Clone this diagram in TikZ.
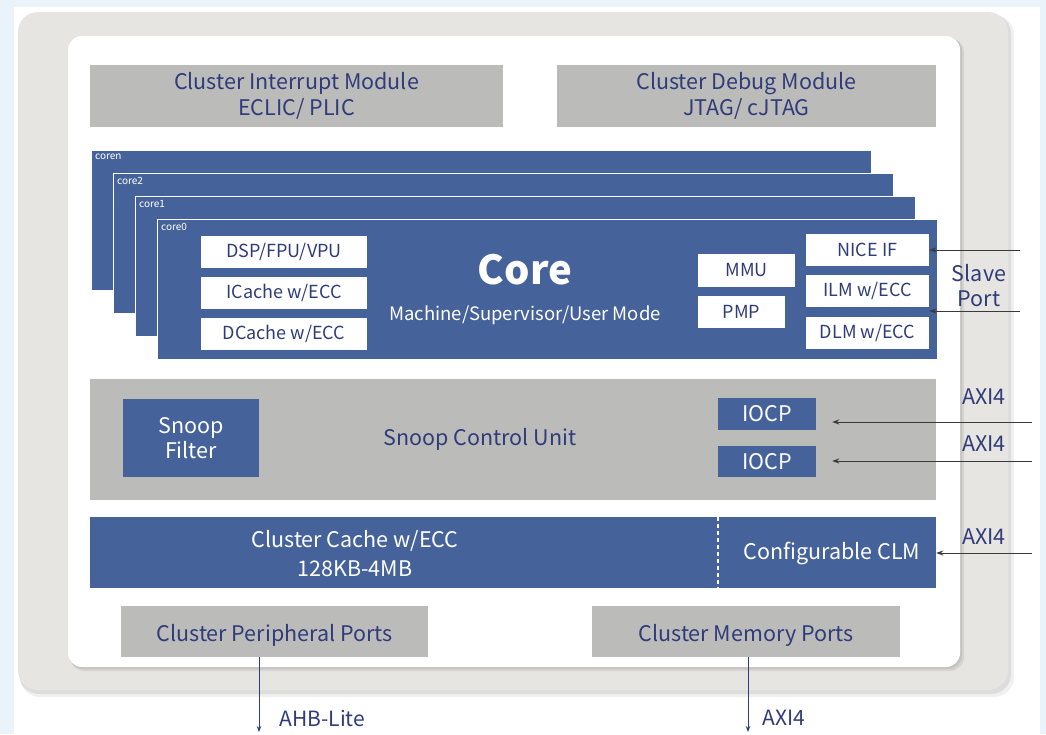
\documentclass[tikz,border=0pt]{standalone}
\usepackage{fontspec}
\setmainfont{Noto Sans CJK SC}
\usetikzlibrary{arrows.meta}

\definecolor{bgblue}{HTML}{EAF2FA}
\definecolor{panelgray}{HTML}{E6E5E1}
\definecolor{boxgray}{HTML}{BBBBBA}
\definecolor{coreblue}{HTML}{45639A}
\definecolor{txtblue}{HTML}{303C7A}
\definecolor{arrgray}{HTML}{3A3A3A}

\begin{document}
\begin{tikzpicture}[x=1pt,y=-1pt]
	\tikzset{graybox/.style={fill=boxgray, text=txtblue, inner sep=0pt, align=center,
				font=\fontsize{21.5}{26}\selectfont}}
	\tikzset{bluebox/.style={fill=coreblue, text=white, inner sep=0pt, align=center,
				font=\fontsize{21.5}{25}\selectfont}}
	\tikzset{corebox/.style={fill=coreblue, draw=white, line width=0.8pt, anchor=north west,
				minimum width=780, minimum height=140}}
	\tikzset{corelbl/.style={text=white, font=\fontsize{10}{11}\selectfont, inner sep=4pt}}
	\tikzset{unitbox/.style={fill=white, text=txtblue, inner sep=0pt, align=center,
				font=\fontsize{18}{21}\selectfont}}
	\tikzset{sidelbl/.style={text=txtblue, align=center, font=\fontsize{21.5}{25}\selectfont}}
	\tikzset{inarrow/.style={arrgray, line width=1pt, -{Stealth[length=7pt,width=5pt]}}}
	\tikzset{outarrow/.style={txtblue, line width=1pt, -{Stealth[length=6pt,width=4.5pt]}}}

	\useasboundingbox (0,0) rectangle (1046,734);

	% frame
	\fill[bgblue] (0,0) rectangle (1046,734);
	\fill[white] (14,7) rectangle (1040,734);
	\fill[black, opacity=0.06, rounded corners=20] (20,15) rectangle (1014,697);
	\fill[black, opacity=0.08, rounded corners=20] (19,14) rectangle (1011,694);
	\fill[panelgray, rounded corners=20] (18,12) rectangle (1008,690);
	\fill[black, opacity=0.07, rounded corners=14] (70,38) rectangle (964,671);
	\fill[black, opacity=0.08, rounded corners=14] (69,37) rectangle (962,669);
	\fill[white, rounded corners=14] (68,36) rectangle (960,667);

	% top modules
	\node[graybox, minimum width=413, minimum height=62] (intm) at (296.5,96)
		{Cluster Interrupt Module\\ECLIC/ PLIC};
	\node[graybox, minimum width=379, minimum height=62] (dbgm) at (746.5,96)
		{Cluster Debug Module\\JTAG/ cJTAG};

	% core stack
	\foreach \i/\lbl in {3/coren,2/core2,1/core1,0/core0}
		\node[corebox, label={[corelbl, anchor=north west]north west:\lbl}]
			(c\i) at (157-22*\i, 219-23*\i) {};

	\node[unitbox, minimum width=166, minimum height=32] (dsp) at (284,252) {DSP/FPU/VPU};
	\node[unitbox, minimum width=166, minimum height=32] (icache) at (284,293) {ICache w/ECC};
	\node[unitbox, minimum width=166, minimum height=32] (dcache) at (284,334) {DCache w/ECC};
	\node[text=white, font=\fontsize{40}{44}\bfseries] (core) at (525,270) {Core};
	\node[text=white, font=\fontsize{18.5}{21}\selectfont] (mode) at (525,315)
		{Machine/Supervisor/User Mode};
	\node[unitbox, minimum width=97, minimum height=33] (mmu) at (746.5,270.5) {MMU};
	\node[unitbox, minimum width=87, minimum height=32] (pmp) at (741.5,312) {PMP};
	\node[unitbox, minimum width=123, minimum height=32] (nice) at (867.5,250) {NICE IF};
	\node[unitbox, minimum width=123, minimum height=32] (ilm) at (867.5,291) {ILM w/ECC};
	\node[unitbox, minimum width=123, minimum height=32] (dlm) at (867.5,332.5) {DLM w/ECC};

	% snoop control unit
	\node[graybox, minimum width=846, minimum height=121] (scu) at (513,439.5) {};
	\node[text=txtblue, font=\fontsize{21.5}{25}\selectfont] (scutxt) at (480,439)
		{Snoop Control Unit};
	\node[bluebox, minimum width=136, minimum height=78] (snoop) at (191,438)
		{Snoop\\Filter};
	\node[bluebox, minimum width=98, minimum height=32] (iocpa) at (767,414) {IOCP};
	\node[bluebox, minimum width=98, minimum height=31] (iocpb) at (767,461.5) {IOCP};

	% cluster cache
	\node[bluebox, minimum width=846, minimum height=71] (cc) at (513,552.5) {};
	\node[text=white, align=center, font=\fontsize{21.5}{29}\selectfont] (cctxt) at (355,554)
		{Cluster Cache w/ECC\\128KB-4MB};
	\node[text=white, font=\fontsize{21.5}{25}\selectfont] (clm) at (832,553) {Configurable CLM};
	\coordinate (split) at (718,0);
	\draw[white, line width=1.2pt, dash pattern=on 4pt off 3pt]
		(split |- cc.north) -- (split |- cc.south);

	% ports
	\node[graybox, minimum width=307, minimum height=51, text height=19pt, text depth=0pt]
		(pp) at (274.5,631.5) {Cluster Peripheral Ports};
	\node[graybox, minimum width=308, minimum height=51, text height=19pt, text depth=0pt]
		(mp) at (746,631.5) {Cluster Memory Ports};

	% outside labels
	\node[sidelbl] (slave) at (979,286) {Slave\\Port};
	\node[sidelbl] (axia) at (984,397) {AXI4};
	\node[sidelbl] (axib) at (984,444) {AXI4};
	\node[sidelbl] (axic) at (984,537) {AXI4};

	% connectors
	\coordinate (sp1) at (1020,250);
	\coordinate (sp2) at (1020,311);
	\coordinate (io1) at (1032,422);
	\coordinate (io2) at (1032,461);
	\coordinate (cl1) at (1032,553);
	\draw[inarrow] (sp1) -- (nice.east);
	\draw[inarrow] (sp2) -- (sp2 -| ilm.east);
	\draw[inarrow, shorten >=16pt] (io1) -- (io1 -| iocpa.east);
	\draw[inarrow, shorten >=16pt] (io2) -- (io2 -| iocpb.east);
	\draw[inarrow] (cl1) -- (cl1 -| cc.east);

	\coordinate (ahbend) at (259,732);
	\coordinate (axiend) at (748,732);
	\draw[outarrow] (ahbend |- pp.south) -- (ahbend);
	\draw[outarrow] (axiend |- mp.south) -- (axiend);
	\node[text=txtblue, anchor=west, font=\fontsize{21}{24}\selectfont] (ahb) at (276,718) {AHB-Lite};
	\node[text=txtblue, anchor=west, font=\fontsize{21}{24}\selectfont] (axid) at (759,718) {AXI4};
\end{tikzpicture}
\end{document}
